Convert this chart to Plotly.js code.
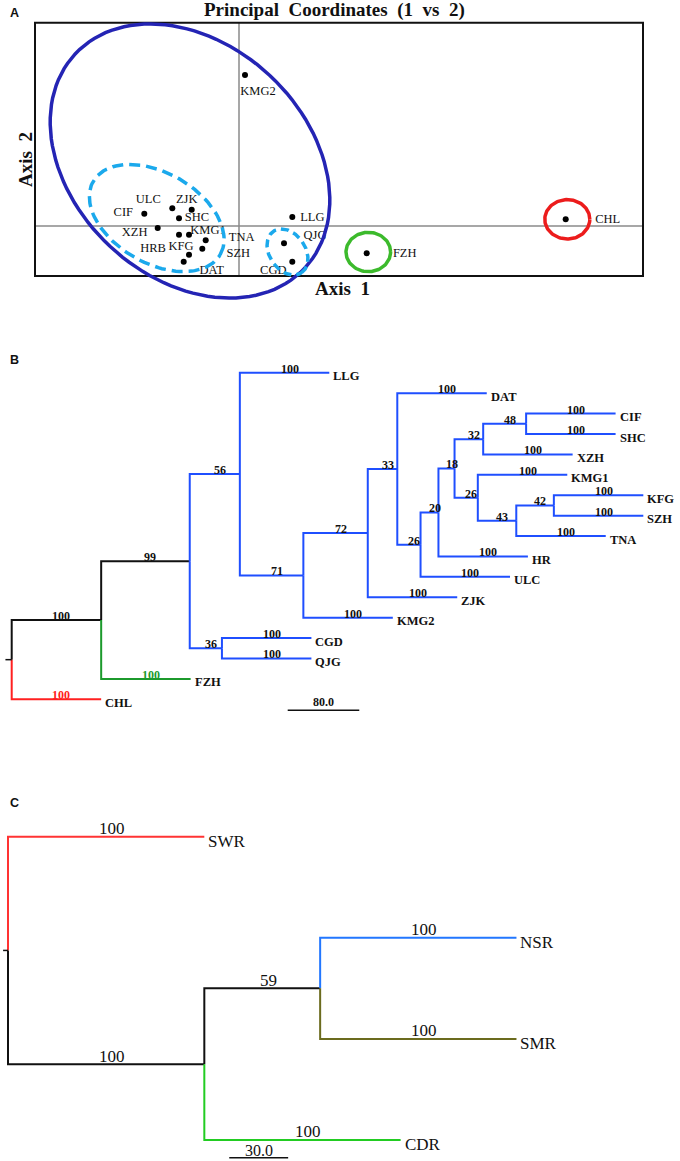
<!DOCTYPE html>
<html><head><meta charset="utf-8">
<script src="https://cdn.plot.ly/plotly-3.0.1.min.js"></script>
<style>html,body{margin:0;padding:0;background:#fff}#chart{width:680px;height:1161px}</style>
</head><body><div id="chart"></div>
<script>
// ================= DATA =================
// ---- Panel A: principal coordinates (axis 1 vs axis 2) ----
const pcoaLabels = ['KMG2','CIF','ULC','ZJK','SHC','XZH','HRB','KMG1','TNA','SZH','KFG','DAT','LLG','QJG','CGD','FZH','CHL'];
const pcoaAxis1  = [0.006,-0.0947,-0.0667,-0.0473,-0.060,-0.0813,-0.060,-0.050,-0.0333,-0.0367,-0.050,-0.0553,0.0533,0.045,0.0533,0.1277,0.3267];
const pcoaAxis2  = [0.151,0.0123,0.0177,0.0163,0.0077,-0.002,-0.0087,-0.0087,-0.0143,-0.0227,-0.0287,-0.0357,0.009,-0.0173,-0.0357,-0.0273,0.0067];

// group ellipses (centre, semi-axes, rotation in degrees) in axis units
const groupNames  = ['cluster I','cluster Ia','cluster Ib','FZH','CHL'];
const groupCx     = [-0.049,-0.0823,0.0485,0.1293,0.3283];
const groupCy     = [0.065,0.008,-0.026,-0.026,0.0067];
const groupSemiA  = [0.157,0.0733,0.025,0.0223,0.0225];
const groupSemiB  = [0.117,0.0452,0.018,0.0197,0.0197];
const groupAngle  = [-43,-30,-56,0,0];

// ---- Panel B: tree of 17 populations ----
const treeBNodes   = ['root','nA','CHL','n99','FZH','n56','n36','LLG','n71','CGD','QJG','n72','KMG2','n33','ZJK','DAT','n26a','n20','ULC','n18','HR','n32','n26b','n48','XZH','CIF','SHC','KMG1','n43','n42','TNA','KFG','SZH'];
const treeBParent  = ['', 'root','root','nA','nA','n99','n99','n56','n56','n36','n36','n71','n71','n72','n72','n33','n33','n26a','n26a','n20','n20','n18','n18','n32','n32','n48','n48','n26b','n26b','n43','n43','n42','n42'];
const treeBLength  = [0,100,100,99,100,56,36,100,71,100,100,72,100,33,100,100,26,20,100,18,100,32,26,48,100,100,100,100,43,42,100,100,100];
const treeBSupport = [null,100,100,99,100,56,36,100,71,100,100,72,100,33,100,100,26,20,100,18,100,32,26,48,100,100,100,100,43,42,100,100,100];

// ---- Panel C: tree of 4 regions ----
const treeCNodes   = ['root','SWR','nB','n59','CDR','NSR','SMR'];
const treeCParent  = ['', 'root','root','nB','nB','n59','n59'];
const treeCLength  = [0,100,100,59,100,100,100];
const treeCSupport = [null,100,100,59,100,100,100];

// ================= STYLE =================
const W = 680, H = 1161;
const SERIF = 'Liberation Serif, Times New Roman, serif';
const SANS = 'Liberation Sans, Arial, sans-serif';
const px2x = p => p / W, py2y = p => 1 - p / H;

const groupColor = ['#2424b4','#1ba9ec','#1ba9ec','#3cba2c','#ec1c1c'];
const groupDash  = ['solid','11px,6px','8px,5px','solid','solid'];
const pcoaLabelDx = [13,-21,-24,-5,18,-23,-26,19,36,36,-8,28,20,31,-19,38,42];
const pcoaLabelDy = [17,-1,-8,-10,0,5,14,-4,-2,5,-8,9,1,-7,9,1,1];
const frameA = {x0:-0.204, x1:0.404, y0:-0.050, y1:0.2033};

const treeBColor = {nA:'#111111', CHL:'#ff2020', n99:'#111111', FZH:'#1c9a2c'};
const treeBDefault = '#1f4fff';
const treeBLabelColor = {CHL:'#ff2020', FZH:'#1c9a2c'};
const treeCColor = {SWR:'#ff3333', nB:'#111111', n59:'#111111', CDR:'#22cc22', NSR:'#2277ff', SMR:'#6b6b1e'};

// ================= BUILD =================
const traces = [];
const annotations = [];
const shapes = [];

// ---- Panel A ----
traces.push({type:'scatter', mode:'markers', x:pcoaAxis1, y:pcoaAxis2, xaxis:'x', yaxis:'y',
  marker:{color:'#000', size:6}, hoverinfo:'text', text:pcoaLabels});
traces.push({type:'scatter', mode:'text', xaxis:'x', yaxis:'y',
  x:pcoaAxis1.map((v,i)=>v + pcoaLabelDx[i]*0.001),
  y:pcoaAxis2.map((v,i)=>v - pcoaLabelDy[i]*0.001),
  text:pcoaLabels, textposition:'middle center',
  textfont:{family:SERIF, size:12.5, color:'#111'}, hoverinfo:'skip', cliponaxis:false});
groupNames.forEach((g,k)=>{
  const xs=[], ys=[], th=groupAngle[k]*Math.PI/180;
  for(let j=0;j<=120;j++){
    const t=2*Math.PI*j/120, ca=groupSemiA[k]*Math.cos(t), sb=groupSemiB[k]*Math.sin(t);
    xs.push(groupCx[k] + ca*Math.cos(th) - sb*Math.sin(th));
    ys.push(groupCy[k] + ca*Math.sin(th) + sb*Math.cos(th));
  }
  traces.push({type:'scatter', mode:'lines', x:xs, y:ys, xaxis:'x', yaxis:'y', name:g,
    line:{color:groupColor[k], width:3.5, dash:groupDash[k]}, hoverinfo:'name'});
});
shapes.push({type:'line', xref:'x', yref:'y', x0:0, x1:0, y0:frameA.y0, y1:frameA.y1, line:{color:'#8a8a8a', width:1.5}, layer:'below'});
shapes.push({type:'line', xref:'x', yref:'y', x0:frameA.x0, x1:frameA.x1, y0:0, y1:0, line:{color:'#8a8a8a', width:1.5}, layer:'below'});
shapes.push({type:'rect', xref:'x', yref:'y', x0:frameA.x0, x1:frameA.x1, y0:frameA.y0, y1:frameA.y1, line:{color:'#111', width:2}, layer:'below'});

annotations.push({xref:'paper', yref:'paper', x:px2x(334), y:py2y(10), showarrow:false, xanchor:'center', yanchor:'middle',
  text:'Principal\u00a0 Coordinates\u00a0 (1\u00a0 vs\u00a0 2)', font:{family:SERIF, size:19, color:'#111', weight:'bold'}});
annotations.push({xref:'paper', yref:'paper', x:px2x(342), y:py2y(288), showarrow:false, xanchor:'center', yanchor:'middle',
  text:'Axis\u00a0 1', font:{family:SERIF, size:19, color:'#111', weight:'bold'}});
annotations.push({xref:'paper', yref:'paper', x:px2x(25), y:py2y(160), showarrow:false, xanchor:'center', yanchor:'middle', textangle:-90,
  text:'Axis\u00a0 2', font:{family:SERIF, size:19, color:'#111', weight:'bold'}});
[['A',14,13],['B',14,360],['C',14,803]].forEach(([t,x,y])=>annotations.push({xref:'paper', yref:'paper', x:px2x(x), y:py2y(y),
  showarrow:false, xanchor:'center', yanchor:'middle', text:t, font:{family:SANS, size:12.5, color:'#111', weight:'bold'}}));

// ---- tree helper ----
function layoutTree(names, parents, lengths){
  const idx = {}; names.forEach((s,i)=>idx[s]=i);
  const children = names.map(()=>[]); let root = 0;
  parents.forEach((p,i)=>{ if(!p) root=i; else children[idx[p]].push(i); });
  const x = [], y = []; let leaf = 0;
  (function walk(i, x0){
    x[i] = x0;
    if(children[i].length===0){ y[i] = leaf++; }
    else { children[i].forEach(c=>walk(c, x0 + lengths[c])); const cs=children[i]; y[i]=(y[cs[0]]+y[cs[cs.length-1]])/2; }
  })(root, 0);
  return {x, y, children, root, idx};
}
function drawTree(names, parents, lengths, support, colorOf, labelColorOf, ax, opt){
  const T = layoutTree(names, parents, lengths);
  const byColor = {};
  names.forEach((n,i)=>{
    if(!parents[i]) return;
    const p = T.idx[parents[i]], c = colorOf(n);
    (byColor[c] = byColor[c] || {x:[], y:[]});
    byColor[c].x.push(T.x[p], T.x[p], T.x[i], null);
    byColor[c].y.push(T.y[p], T.y[i], T.y[i], null);
    annotations.push({xref:'x'+ax, yref:'y'+ax, x:(T.x[p]+T.x[i])/2, y:T.y[i], xshift:opt.supDx, yshift:opt.supDy,
      showarrow:false, xanchor:'center', yanchor:'middle', text:String(support[i]),
      font:{family:SERIF, size:opt.supSize, color:labelColorOf(n), weight:opt.weight}});
    if(T.children[i].length===0){
      annotations.push({xref:'x'+ax, yref:'y'+ax, x:T.x[i], y:T.y[i], xshift:opt.leafDx, yshift:opt.leafDy,
        showarrow:false, xanchor:'left', yanchor:'middle', text:n,
        font:{family:SERIF, size:opt.leafSize, color:'#111', weight:opt.weight}});
    }
  });
  Object.keys(byColor).forEach(c=>traces.push({type:'scatter', mode:'lines', x:byColor[c].x, y:byColor[c].y,
    xaxis:'x'+ax, yaxis:'y'+ax, line:{color:c, width:2}, hoverinfo:'skip', connectgaps:false}));
  // root stub
  traces.push({type:'scatter', mode:'lines', x:[T.x[T.root]-opt.stub, T.x[T.root]], y:[T.y[T.root], T.y[T.root]],
    xaxis:'x'+ax, yaxis:'y'+ax, line:{color:'#111', width:1.5}, hoverinfo:'skip'});
  return T;
}

// ---- Panel B ----
drawTree(treeBNodes, treeBParent, treeBLength, treeBSupport,
  n=>treeBColor[n] || treeBDefault, n=>treeBLabelColor[n] || '#111', '2',
  {supDx:5, supDy:4, supSize:12, leafDx:2, leafDy:-3.5, leafSize:12.5, weight:'bold', stub:7});
const scaleB = {len:80, x0:308.5, row:16.54};
traces.push({type:'scatter', mode:'lines', x:[scaleB.x0, scaleB.x0+scaleB.len], y:[scaleB.row, scaleB.row],
  xaxis:'x2', yaxis:'y2', line:{color:'#111', width:1.5}, hoverinfo:'skip'});
annotations.push({xref:'x2', yref:'y2', x:scaleB.x0+scaleB.len/2, y:scaleB.row, yshift:8, showarrow:false,
  text:scaleB.len.toFixed(1), font:{family:SERIF, size:12, color:'#111', weight:'bold'}});

// ---- Panel C ----
drawTree(treeCNodes, treeCParent, treeCLength, treeCSupport,
  n=>treeCColor[n] || '#111', n=>'#111', '3',
  {supDx:6, supDy:8, supSize:17, leafDx:2, leafDy:-5, leafSize:17, weight:'normal', stub:2.5});
const scaleC = {len:30, x0:112.7, row:3.175};
traces.push({type:'scatter', mode:'lines', x:[scaleC.x0, scaleC.x0+scaleC.len], y:[scaleC.row, scaleC.row],
  xaxis:'x3', yaxis:'y3', line:{color:'#111', width:1.5}, hoverinfo:'skip'});
annotations.push({xref:'x3', yref:'y3', x:scaleC.x0+scaleC.len/2, y:scaleC.row, yshift:7, showarrow:false,
  text:scaleC.len.toFixed(1), font:{family:SERIF, size:16, color:'#111'}});

// ================= LAYOUT =================
const hid = {visible:false, fixedrange:true};
const layout = {
  width:W, height:H, margin:{l:0,r:0,t:0,b:0}, showlegend:false,
  paper_bgcolor:'#fff', plot_bgcolor:'rgba(0,0,0,0)',
  xaxis: Object.assign({domain:[0,1], range:[-0.239, 0.441]}, hid),
  yaxis: Object.assign({domain:[py2y(305), 1], range:[-0.079, 0.226]}, hid),
  xaxis2: Object.assign({domain:[0,1], range:[-13.08, 747.0], anchor:'y2'}, hid),
  yaxis2: Object.assign({domain:[py2y(745), py2y(330)], range:[18.24, -2.098], anchor:'x2'}, hid),
  xaxis3: Object.assign({domain:[0,1], range:[-4.075, 342.3], anchor:'y3'}, hid),
  yaxis3: Object.assign({domain:[0, py2y(780)], range:[3.208, -0.561], anchor:'x3'}, hid),
  shapes, annotations
};
Plotly.newPlot('chart', traces, layout, {staticPlot:true, displayModeBar:false});
</script></body></html>
